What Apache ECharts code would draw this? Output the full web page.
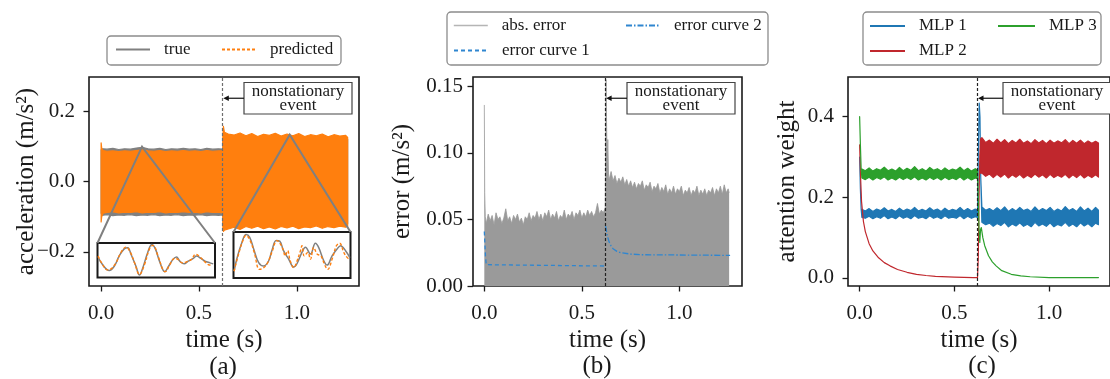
<!DOCTYPE html>
<html><head><meta charset="utf-8">
<script src="https://cdn.jsdelivr.net/npm/echarts@6/dist/echarts.min.js"></script>
<style>html,body{margin:0;padding:0;background:#fff}#c{width:1110px;height:379px}</style>
</head><body><div id="c"></div><script>
const FONT = 'Liberation Serif';
const eventTime = 0.622;
const timeTicks = [0, 0.5, 1.0];
const accelTicks = [-0.2, 0, 0.2];
const errorTicks = [0, 0.05, 0.10, 0.15];
const weightTicks = [0, 0.2, 0.4];

// ---------- (a) acceleration envelopes ----------
const accTime = [0, 0.003, 0.01, 0.03, 0.06, 0.09, 0.12, 0.15, 0.18, 0.21, 0.24, 0.27, 0.30, 0.33, 0.36, 0.39, 0.42, 0.45, 0.48, 0.51, 0.54, 0.57, 0.60, 0.622,
  0.622, 0.625, 0.63, 0.65, 0.68, 0.71, 0.74, 0.77, 0.80, 0.83, 0.86, 0.89, 0.92, 0.95, 0.98, 1.01, 1.04, 1.07, 1.10, 1.13, 1.16, 1.19, 1.22, 1.25, 1.26];
const predUpper = [0.11, 0.095, 0.088, 0.086, 0.087, 0.085, 0.087, 0.086, 0.088, 0.09, 0.087, 0.086, 0.088, 0.085, 0.087, 0.086, 0.088, 0.086, 0.087, 0.085, 0.088, 0.086, 0.087, 0.088,
  0.13, 0.157, 0.14, 0.135, 0.132, 0.138, 0.13, 0.136, 0.128, 0.134, 0.131, 0.137, 0.129, 0.135, 0.13, 0.136, 0.128, 0.133, 0.13, 0.135, 0.127, 0.133, 0.129, 0.131, 0.125];
const predLower = [-0.115, -0.1, -0.09, -0.088, -0.086, -0.089, -0.087, -0.088, -0.086, -0.089, -0.087, -0.088, -0.086, -0.089, -0.087, -0.088, -0.086, -0.088, -0.087, -0.089, -0.086, -0.088, -0.087, -0.09,
  -0.13, -0.142, -0.138, -0.135, -0.13, -0.136, -0.128, -0.133, -0.127, -0.134, -0.129, -0.135, -0.128, -0.132, -0.127, -0.134, -0.129, -0.131, -0.126, -0.133, -0.128, -0.131, -0.127, -0.13, -0.128];
const trueUpper = [0.09, 0.092, 0.093, 0.092, 0.094, 0.091, 0.093, 0.092, 0.095, 0.097, 0.093, 0.092, 0.094, 0.091, 0.093, 0.092, 0.094, 0.092, 0.093, 0.091, 0.094, 0.092, 0.093, 0.092,
  0.12, 0.12, 0.12, 0.12, 0.12, 0.12, 0.12, 0.12, 0.12, 0.12, 0.12, 0.12, 0.12, 0.12, 0.12, 0.12, 0.12, 0.12, 0.12, 0.12, 0.12, 0.12, 0.12, 0.12, 0.12];
const trueLower = [-0.09, -0.095, -0.096, -0.094, -0.097, -0.095, -0.096, -0.094, -0.097, -0.095, -0.096, -0.094, -0.097, -0.095, -0.096, -0.094, -0.097, -0.095, -0.096, -0.094, -0.097, -0.095, -0.096, -0.095,
  -0.12, -0.12, -0.12, -0.12, -0.12, -0.12, -0.12, -0.12, -0.12, -0.12, -0.12, -0.12, -0.12, -0.12, -0.12, -0.12, -0.12, -0.12, -0.12, -0.12, -0.12, -0.12, -0.12, -0.12, -0.12];
// zoomed windows (ms inside a 40 ms window)
const insetLTrueTime = [0.2, 1.7, 4.0, 5.7, 7.4, 9.1, 10.3, 11.4, 13.1, 14.3, 15.4, 17.1, 18.5, 19.7, 21.1, 22.9, 24.2, 25.7, 26.9, 28.0, 29.5, 30.9, 32.6, 33.7, 35.2, 36.6, 38.3, 39.4];
const insetLTrue = [0.019, -0.025, -0.060, -0.035, 0.025, 0.066, 0.072, 0.035, -0.035, -0.086, -0.045, 0.045, 0.092, 0.066, -0.005, -0.066, -0.035, 0.005, 0.019, -0.005, -0.021, -0.005, 0.011, 0.025, 0.011, -0.005, -0.015, -0.021];
const insetLPredTime = [0.2, 1.4, 3.4, 4.6, 6.3, 8.0, 9.7, 11.2, 12.6, 14.3, 16.0, 17.7, 18.9, 20.6, 22.3, 23.1, 24.6, 26.3, 27.4, 28.8, 30.3, 32.0, 33.4, 34.9, 36.3, 37.7, 39.1];
const insetLPred = [0.025, -0.015, -0.056, -0.050, -0.015, 0.046, 0.076, 0.046, -0.015, -0.082, -0.025, 0.066, 0.086, 0.025, -0.056, -0.066, -0.025, 0.011, 0.005, -0.015, -0.009, 0.005, 0.035, 0.019, -0.005, -0.025, -0.029];
const insetRTrueTime = [0.2, 1.1, 2.9, 4.3, 5.5, 6.9, 8.6, 10.3, 12.0, 13.1, 14.6, 15.8, 17.1, 18.9, 20.6, 21.7, 23.4, 24.6, 26.3, 28.0, 29.1, 30.9, 32.0, 33.7, 35.4, 36.6, 38.3, 39.8];
const insetRTrue = [-0.106, -0.028, 0.083, 0.134, 0.117, 0.039, -0.050, -0.072, -0.039, 0.028, 0.094, 0.090, 0.028, -0.028, -0.079, -0.057, 0.017, 0.050, 0.006, 0.077, 0.050, -0.039, -0.066, -0.006, 0.039, 0.061, 0.028, -0.017];
const insetRPredTime = [0.2, 1.4, 3.2, 4.3, 5.7, 7.1, 8.9, 10.3, 11.7, 13.1, 14.9, 16.0, 16.9, 17.7, 18.5, 19.4, 20.6, 21.5, 22.9, 23.4, 24.2, 25.4, 26.3, 27.4, 28.6, 29.9, 31.1, 32.2, 33.7, 35.2, 36.3, 37.7, 38.9, 39.8];
const insetRPred = [-0.106, -0.017, 0.094, 0.128, 0.094, 0.017, -0.094, -0.083, -0.050, 0.017, 0.094, 0.072, 0.039, -0.006, 0.028, -0.039, -0.083, -0.050, 0.028, 0.061, -0.006, 0.017, -0.028, 0.050, 0.006, -0.006, -0.061, -0.094, -0.028, 0.061, 0.077, 0.017, -0.017, -0.028];
const zoomApex = [[0.209, 0.099], [0.964, 0.133]];

// ---------- (b) error ----------
const errTime = [0, 0.002, 0.005,
  0.01, 0.02, 0.03, 0.04, 0.05, 0.06, 0.07, 0.08, 0.09, 0.10,
  0.11, 0.12, 0.13, 0.14, 0.15, 0.16, 0.17, 0.18, 0.19, 0.20,
  0.21, 0.22, 0.23, 0.24, 0.25, 0.26, 0.27, 0.28, 0.29, 0.30,
  0.31, 0.32, 0.33, 0.34, 0.35, 0.36, 0.37, 0.38, 0.39, 0.40,
  0.41, 0.42, 0.43, 0.44, 0.45, 0.46, 0.47, 0.48, 0.49, 0.50,
  0.51, 0.52, 0.53, 0.54, 0.55, 0.56, 0.57, 0.58, 0.59, 0.60,
  0.61, 0.62,
  0.622, 0.624, 0.627, 0.630, 0.633, 0.637,
  0.64, 0.65, 0.66, 0.67, 0.68, 0.69, 0.70, 0.71, 0.72, 0.73,
  0.74, 0.75, 0.76, 0.77, 0.78, 0.79, 0.80, 0.81, 0.82, 0.83,
  0.84, 0.85, 0.86, 0.87, 0.88, 0.89, 0.90, 0.91, 0.92, 0.93,
  0.94, 0.95, 0.96, 0.97, 0.98, 0.99, 1.00, 1.01, 1.02, 1.03,
  1.04, 1.05, 1.06, 1.07, 1.08, 1.09, 1.10, 1.11, 1.12, 1.13,
  1.14, 1.15, 1.16, 1.17, 1.18, 1.19, 1.20, 1.21, 1.22, 1.23,
  1.24, 1.25, 1.255];
const absError = [0.136, 0.07, 0.052,
  0.047, 0.054, 0.049, 0.053, 0.046, 0.055, 0.05, 0.052, 0.047, 0.051,
  0.058, 0.049, 0.052, 0.047, 0.053, 0.05, 0.054, 0.048, 0.051, 0.046,
  0.052, 0.05, 0.055, 0.049, 0.053, 0.051, 0.056, 0.05, 0.054, 0.049,
  0.055, 0.052, 0.057, 0.05, 0.054, 0.051, 0.056, 0.049, 0.053, 0.051,
  0.057, 0.05, 0.054, 0.052, 0.056, 0.05, 0.055, 0.053, 0.057, 0.051,
  0.055, 0.052, 0.057, 0.053, 0.056, 0.052, 0.055, 0.062, 0.054, 0.057,
  0.055, 0.059,
  0.06, 0.155, 0.12, 0.09, 0.11, 0.082,
  0.08, 0.086, 0.079, 0.083, 0.077, 0.081, 0.078, 0.082, 0.076, 0.08,
  0.075, 0.079, 0.074, 0.078, 0.073, 0.077, 0.075, 0.079, 0.072, 0.076,
  0.074, 0.078, 0.071, 0.075, 0.073, 0.077, 0.07, 0.074, 0.071, 0.076,
  0.069, 0.073, 0.07, 0.075, 0.069, 0.073, 0.071, 0.075, 0.068, 0.072,
  0.07, 0.074, 0.068, 0.072, 0.07, 0.075, 0.068, 0.072, 0.069, 0.073,
  0.068, 0.072, 0.07, 0.074, 0.068, 0.073, 0.07, 0.075, 0.069, 0.076,
  0.07, 0.073, 0.07];
const curve1Time = [0, 0.003, 0.006, 0.01, 0.015, 0.622];
const curve1 = [0.041, 0.032, 0.022, 0.016, 0.015, 0.015];
const curve2Time = [0.622, 0.63, 0.64, 0.65, 0.66, 0.68, 0.70, 0.75, 0.80, 1.26];
const curve2 = [0.045, 0.038, 0.033, 0.03, 0.028, 0.026, 0.025, 0.024, 0.0235, 0.023];

// ---------- (c) attention weights ----------
const wStartTime = [0, 0.004, 0.008];
const wBeforeTime = [0.012, 0.03, 0.05, 0.07, 0.09, 0.11, 0.13, 0.15, 0.17, 0.19, 0.21, 0.23, 0.25, 0.27, 0.29, 0.31, 0.33, 0.35, 0.37, 0.39, 0.41, 0.43, 0.45, 0.47, 0.49, 0.51, 0.53, 0.55, 0.57, 0.59, 0.61, 0.622];
const wAfterTime = [0.645, 0.665, 0.685, 0.705, 0.725, 0.745, 0.765, 0.785, 0.805, 0.825, 0.845, 0.865, 0.885, 0.905, 0.925, 0.945, 0.965, 0.985, 1.005, 1.025, 1.045, 1.065, 1.085, 1.105, 1.125, 1.145, 1.165, 1.185, 1.205, 1.225, 1.245, 1.26];
// MLP 1
const mlp1Start = [0.30, 0.22, 0.17];
const mlp1BeforeHi = [0.170, 0.166, 0.172, 0.165, 0.171, 0.167, 0.174, 0.166, 0.170, 0.165, 0.173, 0.166, 0.171, 0.167, 0.175, 0.166, 0.170, 0.166, 0.174, 0.167, 0.171, 0.165, 0.173, 0.166, 0.170, 0.167, 0.175, 0.166, 0.172, 0.166, 0.171, 0.168];
const mlp1BeforeLo = [0.150, 0.148, 0.153, 0.147, 0.152, 0.148, 0.155, 0.147, 0.151, 0.147, 0.154, 0.148, 0.152, 0.147, 0.155, 0.148, 0.151, 0.147, 0.154, 0.148, 0.152, 0.147, 0.154, 0.148, 0.151, 0.148, 0.155, 0.147, 0.153, 0.148, 0.152, 0.150];
const mlp1EventTime = [0.626, 0.631, 0.635, 0.639];
const mlp1Event = [0.30, 0.434, 0.40, 0.25];
const mlp1AfterHi = [0.176, 0.168, 0.172, 0.166, 0.174, 0.167, 0.176, 0.165, 0.172, 0.166, 0.175, 0.167, 0.171, 0.165, 0.176, 0.166, 0.172, 0.167, 0.175, 0.165, 0.171, 0.166, 0.177, 0.167, 0.172, 0.165, 0.176, 0.166, 0.173, 0.165, 0.175, 0.168];
const mlp1AfterLo = [0.138, 0.132, 0.136, 0.128, 0.135, 0.13, 0.138, 0.127, 0.134, 0.129, 0.137, 0.128, 0.133, 0.127, 0.138, 0.129, 0.134, 0.128, 0.137, 0.127, 0.133, 0.129, 0.138, 0.128, 0.134, 0.127, 0.137, 0.129, 0.135, 0.127, 0.136, 0.132];
// MLP 2
const mlp2DecayTime = [0, 0.005, 0.01, 0.02, 0.03, 0.05, 0.07, 0.1, 0.13, 0.16, 0.2, 0.25, 0.3, 0.35, 0.4, 0.5, 0.6, 0.622, 0.626, 0.63, 0.634, 0.638];
const mlp2DecayHi = [0.33, 0.25, 0.19, 0.14, 0.115, 0.085, 0.067, 0.05, 0.038, 0.03, 0.021, 0.014, 0.009, 0.006, 0.004, 0.002, 0.001, 0.001, 0.05, 0.2, 0.3, 0.345];
const mlp2DecayLo = [0.33, 0.25, 0.19, 0.14, 0.115, 0.085, 0.067, 0.05, 0.038, 0.03, 0.021, 0.014, 0.009, 0.006, 0.004, 0.002, 0.001, 0.001, 0.05, 0.2, 0.3, 0.26];
const mlp2AfterHi = [0.348, 0.336, 0.342, 0.334, 0.344, 0.335, 0.343, 0.333, 0.341, 0.335, 0.344, 0.334, 0.34, 0.333, 0.343, 0.335, 0.341, 0.333, 0.342, 0.334, 0.34, 0.335, 0.343, 0.333, 0.341, 0.334, 0.342, 0.333, 0.34, 0.334, 0.339, 0.335];
const mlp2AfterLo = [0.26, 0.252, 0.258, 0.249, 0.257, 0.25, 0.258, 0.248, 0.256, 0.25, 0.257, 0.248, 0.255, 0.249, 0.258, 0.25, 0.256, 0.248, 0.257, 0.249, 0.255, 0.25, 0.257, 0.248, 0.256, 0.249, 0.257, 0.248, 0.255, 0.249, 0.256, 0.25];
// MLP 3
const mlp3Start = [0.40, 0.33, 0.27];
const mlp3BeforeHi = [0.27, 0.266, 0.273, 0.265, 0.271, 0.267, 0.275, 0.266, 0.27, 0.265, 0.274, 0.266, 0.272, 0.267, 0.276, 0.266, 0.271, 0.265, 0.274, 0.267, 0.271, 0.265, 0.273, 0.266, 0.27, 0.267, 0.275, 0.266, 0.272, 0.265, 0.271, 0.268];
const mlp3BeforeLo = [0.248, 0.244, 0.25, 0.243, 0.249, 0.245, 0.251, 0.243, 0.248, 0.243, 0.25, 0.244, 0.249, 0.244, 0.251, 0.243, 0.248, 0.243, 0.25, 0.244, 0.249, 0.243, 0.25, 0.244, 0.248, 0.244, 0.251, 0.243, 0.249, 0.243, 0.248, 0.246];
const mlp3DecayTime = [0.626, 0.63, 0.634, 0.638, 0.642, 0.65, 0.66, 0.68, 0.70, 0.72, 0.75, 0.8, 0.85, 0.9, 1.0, 1.26];
const mlp3Decay = [0.2, 0.12, 0.088, 0.12, 0.125, 0.1, 0.08, 0.055, 0.04, 0.03, 0.018, 0.009, 0.005, 0.003, 0.001, 0.001];

// assembled (c) curves
const mlp1Time = [...wStartTime, ...wBeforeTime, ...mlp1EventTime, ...wAfterTime];
const mlp1Lo = [...mlp1Start, ...mlp1BeforeLo, ...mlp1Event, ...mlp1AfterLo];
const mlp1Hi = [...mlp1Start, ...mlp1BeforeHi, ...mlp1Event, ...mlp1AfterHi];
const mlp2Time = [...mlp2DecayTime, ...wAfterTime];
const mlp2Lo = [...mlp2DecayLo, ...mlp2AfterLo];
const mlp2Hi = [...mlp2DecayHi, ...mlp2AfterHi];
const mlp3Time = [...wStartTime, ...wBeforeTime, ...mlp3DecayTime];
const mlp3Lo = [...mlp3Start, ...mlp3BeforeLo, ...mlp3Decay];
const mlp3Hi = [...mlp3Start, ...mlp3BeforeHi, ...mlp3Decay];

// ---------- layout ----------
const TXT = '#1a1a1a';
const grids = [
  {left: 89, top: 77, width: 270, height: 209},
  {left: 473, top: 77, width: 269, height: 209},
  {left: 848, top: 77, width: 270, height: 209},
  {left: 97.5, top: 243, width: 117.5, height: 34.5},
  {left: 233.5, top: 232, width: 117, height: 46}
];
const zip = (t, v) => t.map((x, i) => [x, v[i]]);

function mainX(gi, min, max) {
  return {type: 'value', gridIndex: gi, min, max, position: 'bottom',
    name: 'time (s)', nameLocation: 'middle', nameGap: 42, nameMoveOverlap: false,
    nameTextStyle: {fontFamily: FONT, fontSize: 25, color: TXT},
    axisLine: {show: false, onZero: false}, splitLine: {show: false},
    axisTick: {show: true, inside: false, length: 5.5, customValues: timeTicks, lineStyle: {color: TXT, width: 1.3}},
    axisLabel: {inside: false, customValues: timeTicks, formatter: v => v.toFixed(1), fontFamily: FONT, fontSize: 21, color: TXT, margin: 17}};
}
function mainY(gi, min, max, ticks, fmt, name, gap, margin) {
  return {type: 'value', gridIndex: gi, min, max, position: 'left',
    name, nameLocation: 'middle', nameGap: gap, nameMoveOverlap: false,
    nameTextStyle: {fontFamily: FONT, fontSize: 25, color: TXT},
    axisLine: {show: false, onZero: false}, splitLine: {show: false},
    axisTick: {show: true, inside: false, length: 5.5, customValues: ticks, lineStyle: {color: TXT, width: 1.3}},
    axisLabel: {inside: false, customValues: ticks, formatter: fmt, fontFamily: FONT, fontSize: 21, color: TXT, margin}};
}
function hiddenAxis(gi, min, max) {
  return {type: 'value', gridIndex: gi, min, max, show: false, splitLine: {show: false}, axisLine: {onZero: false}};
}
function band(name, ai, times, lo, hi, color, extra) {
  return Object.assign({
    type: 'custom', name, xAxisIndex: ai, yAxisIndex: ai, clip: true,
    itemStyle: {color},
    data: times.map((t, i) => [t, lo[i], hi[i]]),
    encode: {x: 0, y: [1, 2]},
    renderItem(params, api) {
      if (params.dataIndex !== 0) return null;
      const pts = [];
      for (let i = 0; i < times.length; i++) pts.push(api.coord([times[i], hi[i]]));
      for (let i = times.length - 1; i >= 0; i--) pts.push(api.coord([times[i], lo[i]]));
      return {type: 'polygon', shape: {points: pts}, style: {fill: color, stroke: color, lineWidth: 1.2, lineJoin: 'round'}};
    }
  }, extra || {});
}
function eventLine(color) {
  return {silent: true, symbol: ['none', 'none'], label: {show: false}, animation: false,
    lineStyle: {type: [3, 2], color, width: 1.2}, emphasis: {disabled: true}, data: [{xAxis: eventTime}]};
}
const fmt1 = v => (v < 0 ? '\u2212' : '') + Math.abs(v).toFixed(1);
const fmt2 = v => v.toFixed(2);

function leg(item, left, rowCenter, extra) {
  return Object.assign({
    left, top: rowCenter - 9, orient: 'horizontal', padding: 0, itemGap: 0,
    itemWidth: 34, itemHeight: 14, selectedMode: false, data: [item],
    itemStyle: {opacity: 0},
    textStyle: {fontFamily: FONT, fontSize: 17, color: TXT, lineHeight: 18, padding: [0, 0, 0, 9]}
  }, extra || {});
}

const ORANGE = '#ff7f0e', GRAY = '#808080', BLUE = '#1f77b4', RED = '#c0272d', GREEN = '#2ca02c', EBLUE = '#2f86d0';
const rectLeg = {itemWidth: 35, itemHeight: 1.8, itemStyle: {opacity: 1}};

const option = {
  animation: false,
  backgroundColor: '#fff',
  textStyle: {fontFamily: FONT},
  grid: grids.map((g, i) => Object.assign({show: true, borderColor: TXT, borderWidth: i < 3 ? 1.6 : 2,
    backgroundColor: i < 3 ? 'transparent' : '#fff', z: i < 3 ? 0 : 3}, g)),
  xAxis: [mainX(0, -0.062, 1.318), mainX(1, -0.058, 1.321), mainX(2, -0.0614, 1.321),
    hiddenAxis(3, 0, 40), hiddenAxis(4, 0, 40)],
  yAxis: [mainY(0, -0.297, 0.297, accelTicks, fmt1, 'acceleration (m/s\u00b2)', 50.5, 14),
    mainY(1, 0, 0.157, errorTicks, fmt2, 'error (m/s\u00b2)', 58, 10),
    mainY(2, -0.02, 0.4985, weightTicks, fmt1, 'attention weight', 48, 14),
    hiddenAxis(3, -0.1, 0.1), hiddenAxis(4, -0.15, 0.15)],
  legend: [
    leg('true', 115, 49.5), leg('predicted', 221, 49.5),
    leg({name: 'abs. error', lineStyle: {color: '#b5b5b5', width: 1.6}}, 453, 25.5),
    leg('error curve 1', 453, 50.5), leg('error curve 2', 625, 25.5),
    leg({name: 'MLP 1', icon: 'rect'}, 870, 26, rectLeg),
    leg({name: 'MLP 2', icon: 'rect'}, 870, 51, rectLeg),
    leg({name: 'MLP 3', icon: 'rect'}, 998, 26, Object.assign({}, rectLeg, {itemWidth: 37}))
  ],
  series: [
    {type: 'line', name: 'true', xAxisIndex: 3, yAxisIndex: 3, z: 5, symbol: 'none', smooth: 0.4,
      lineStyle: {color: GRAY, width: 1.5}, itemStyle: {color: GRAY}, data: zip(insetLTrueTime, insetLTrue)},
    {type: 'line', name: 'predicted', xAxisIndex: 3, yAxisIndex: 3, z: 6, symbol: 'none', smooth: 0.4,
      lineStyle: {color: ORANGE, width: 1.4, type: [3, 2]}, itemStyle: {color: ORANGE}, data: zip(insetLPredTime, insetLPred)},
    {type: 'line', name: 'true', xAxisIndex: 4, yAxisIndex: 4, z: 5, symbol: 'none', smooth: 0.4,
      lineStyle: {color: GRAY, width: 1.5}, itemStyle: {color: GRAY}, data: zip(insetRTrueTime, insetRTrue)},
    {type: 'line', name: 'predicted', xAxisIndex: 4, yAxisIndex: 4, z: 6, symbol: 'none', smooth: 0.4,
      lineStyle: {color: ORANGE, width: 1.4, type: [3, 2]}, itemStyle: {color: ORANGE}, data: zip(insetRPredTime, insetRPred)},
    band('true', 0, accTime, trueLower, trueUpper, GRAY),
    band('predicted', 0, accTime, predLower, predUpper, ORANGE, {markLine: eventLine('#6e6e6e')}),

    {type: 'line', name: 'abs. error', xAxisIndex: 1, yAxisIndex: 1, symbol: 'none',
      lineStyle: {color: '#999', width: 0.8}, itemStyle: {color: '#999'}, areaStyle: {color: '#9a9a9a', opacity: 1},
      data: zip(errTime, absError)},
    {type: 'line', name: 'error curve 1', xAxisIndex: 1, yAxisIndex: 1, symbol: 'none',
      lineStyle: {color: EBLUE, width: 1.3, type: [4, 3]}, itemStyle: {color: EBLUE}, data: zip(curve1Time, curve1)},
    {type: 'line', name: 'error curve 2', xAxisIndex: 1, yAxisIndex: 1, symbol: 'none',
      lineStyle: {color: EBLUE, width: 1.3, type: [6, 2, 1.5, 2]}, itemStyle: {color: EBLUE}, data: zip(curve2Time, curve2),
      markLine: eventLine('#222')},

    band('MLP 1', 2, mlp1Time, mlp1Lo, mlp1Hi, BLUE),
    band('MLP 2', 2, mlp2Time, mlp2Lo, mlp2Hi, RED),
    band('MLP 3', 2, mlp3Time, mlp3Lo, mlp3Hi, GREEN, {markLine: eventLine('#222')})
  ]
};
const chart = echarts.init(document.getElementById('c'));
chart.setOption(option);

// ---------- annotations (positions derived from the axes) ----------
const g = [];
[[107, 36, 234, 29], [447, 12, 321, 53], [863, 12, 238, 53]].forEach(([x, y, w, h]) =>
  g.push({type: 'rect', z: 1, shape: {x, y, width: w, height: h, r: 4}, style: {fill: '#fff', stroke: '#8c8c8c', lineWidth: 1.3}}));
[0, 1, 2].forEach(i => {
  const gr = grids[i];
  const bw = 108, bh = 31.5, by = 82.5;
  const bx = gr.left + gr.width - 7 - bw;
  const cy = by + bh / 2;
  const ex = chart.convertToPixel({xAxisIndex: i}, eventTime);
  g.push({type: 'rect', z: 10, shape: {x: bx, y: by, width: bw, height: bh}, style: {fill: '#fff', stroke: '#444', lineWidth: 1.2}});
  g.push({type: 'text', z: 11, style: {text: 'nonstationary\nevent', x: bx + bw / 2, y: cy + 0.5, align: 'center', verticalAlign: 'middle',
    textAlign: 'center', textVerticalAlign: 'middle', font: '17px "Liberation Serif"', fontFamily: FONT, fontSize: 17, lineHeight: 14.5, fill: TXT}});
  g.push({type: 'line', z: 10, shape: {x1: bx, y1: cy, x2: ex + 4, y2: cy}, style: {stroke: '#111', lineWidth: 1.2}});
  g.push({type: 'polygon', z: 10, shape: {points: [[ex + 0.5, cy], [ex + 6, cy - 2.8], [ex + 6, cy + 2.8]]}, style: {fill: '#111'}});
});
// zoom connector triangles
[[3, 0], [4, 1]].forEach(([gi, k]) => {
  const gr = grids[gi];
  const apex = chart.convertToPixel({xAxisIndex: 0, yAxisIndex: 0}, zoomApex[k]);
  g.push({type: 'polyline', z: 3, shape: {points: [[gr.left, gr.top], apex, [gr.left + gr.width, gr.top]]},
    style: {stroke: GRAY, lineWidth: 2, fill: null, lineJoin: 'miter'}});
});
[['(a)', 223, 367], ['(b)', 597, 366], ['(c)', 982, 366]].forEach(([t, x, y]) =>
  g.push({type: 'text', z: 5, style: {text: t, x, y, align: 'center', verticalAlign: 'middle', textAlign: 'center', textVerticalAlign: 'middle',
    font: '25px "Liberation Serif"', fontFamily: FONT, fontSize: 25, fill: TXT}}));
chart.setOption({graphic: {elements: g}});
</script></body></html>
